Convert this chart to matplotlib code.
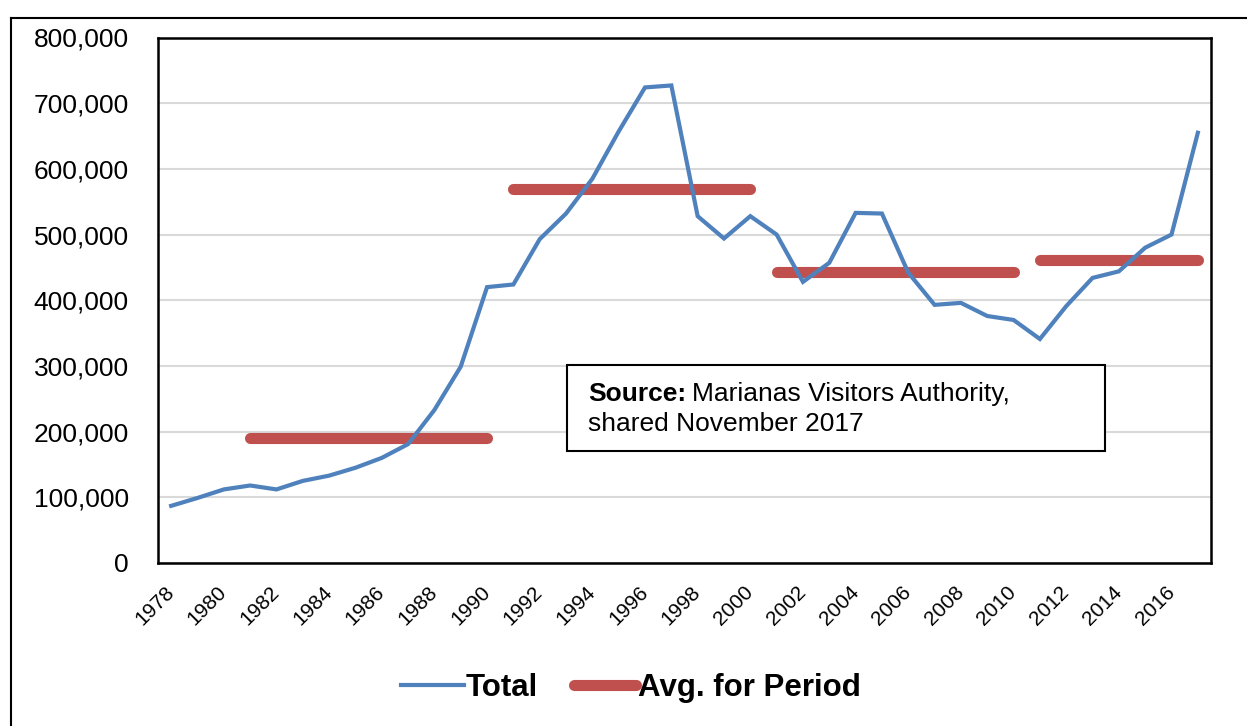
import numpy as np
import matplotlib.pyplot as plt
from matplotlib.lines import Line2D
from matplotlib.patches import Rectangle
from matplotlib.ticker import FuncFormatter

plt.rcParams['font.family'] = ['Liberation Sans', 'DejaVu Sans']

years = list(range(1978, 2018))
total = [87000, 99000, 112000, 118000, 112000, 125000, 133000, 145000, 160000, 181000,
         233000, 299000, 420000, 424000, 493000, 532000, 585000, 657000, 724000, 727000,
         528000, 494000, 528000, 500000, 428000, 457000, 533000, 532000, 442000, 393000,
         396000, 376000, 370000, 341000, 391000, 434000, 444000, 480000, 500000, 655000]

period_start = [1981, 1991, 2001, 2011]
period_end = [1990, 2000, 2010, 2017]
period_avg = [191000, 569000, 443000, 462000]

blue = '#4F81BD'
red = '#C0504D'

W, H = 1247, 726
fig = plt.figure(figsize=(W / 100, H / 100), dpi=100)

def fx(px):
    return px / W

def fy(py):
    return 1 - py / H

ax = fig.add_axes([fx(158), fy(563), fx(1211) - fx(158), fy(37.5) - fy(563)])

x = np.arange(len(years))
ax.plot(x, total, color=blue, lw=3.0, label='Total', solid_joinstyle='miter', zorder=3)

# one red segment per period, same series
for k, (s, e, v) in enumerate(zip(period_start, period_end, period_avg)):
    i0, i1 = years.index(s), years.index(e)
    ax.plot([i0, i1], [v, v], color=red, lw=8, solid_capstyle='round', zorder=2,
            label='Avg. for Period' if k == 0 else None)

ax.set_xlim(-0.5, len(years) - 0.5)
ax.set_ylim(0, 800000)
ax.set_yticks(np.arange(0, 800001, 100000))
ax.yaxis.set_major_formatter(FuncFormatter(lambda v, p: f'{int(v):,}'))
ax.grid(axis='y', color='#d9d9d9', lw=1.5)
ax.set_axisbelow(True)

even = [i for i, y in enumerate(years) if y % 2 == 0]
ax.set_xticks(even)
ax.set_xticklabels([str(years[i]) for i in even], rotation=45, ha='right', va='center',
                   rotation_mode='anchor', fontsize=15)
ax.tick_params(axis='x', length=0, pad=19)
ax.tick_params(axis='y', length=0, pad=21, labelsize=19)
for sp in ax.spines.values():
    sp.set_color('black')
    sp.set_linewidth(1.8)

# source box
fig.patches.append(Rectangle((fx(567), fy(451)), fx(1105) - fx(567), fy(365) - fy(451),
                             transform=fig.transFigure, fill=True, facecolor='white',
                             edgecolor='black', lw=1.5, zorder=5))
t1 = fig.text(fx(588), fy(401), 'Source:', fontsize=19, fontweight='bold', zorder=6)
fig.canvas.draw()
bb = t1.get_window_extent()
fig.text(bb.x1 / W + fx(6), fy(401), 'Marianas Visitors Authority,', fontsize=19, zorder=6)
fig.text(fx(588), fy(431), 'shared November 2017', fontsize=19, zorder=6)

# outer frame
fig.lines.append(Line2D([fx(11), fx(11)], [0, fy(18)], transform=fig.transFigure, color='black', lw=1.5))
fig.lines.append(Line2D([fx(11), 1], [fy(18), fy(18)], transform=fig.transFigure, color='black', lw=1.5))

fig.legend(loc='center', bbox_to_anchor=(fx(631), fy(688)), ncol=2, frameon=False,
           prop={'weight': 'bold', 'size': 22.5}, handlelength=2.0, handletextpad=0.06,
           columnspacing=1.15)

fig.savefig('out.png', dpi=100)
